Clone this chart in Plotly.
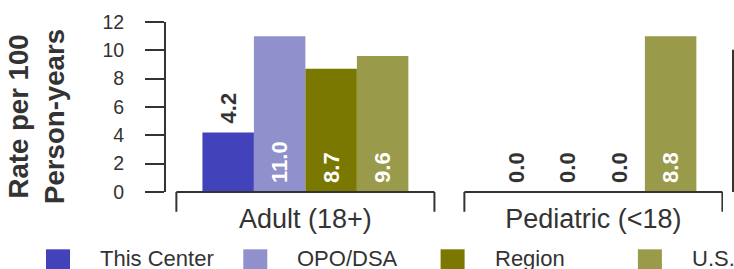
import plotly.graph_objects as go

# ---- data ----
groups = ["Adult (18+)", "Pediatric (<18)"]
series_names = ["This Center", "OPO/DSA", "Region", "U.S."]
series_colors = ["#4242BA", "#9090CC", "#7A7800", "#999A4A"]
this_center = [4.2, 0.0]
opo_dsa = [11.0, 0.0]
region = [8.7, 0.0]
us = [9.6, 11.0]
this_center_labels = ["4.2", "0.0"]
opo_dsa_labels = ["11.0", "0.0"]
region_labels = ["8.7", "0.0"]
us_labels = ["9.6", "8.8"]
y_ticks = [0, 2, 4, 6, 8, 10, 12]

series_values = [this_center, opo_dsa, region, us]
series_labels = [this_center_labels, opo_dsa_labels, region_labels, us_labels]

FONT = "Liberation Sans, Arial, sans-serif"
INK = "#333333"

# layout geometry (pixels)
W, H = 734, 269
L, R, T, B = 166, 11, 20, 77
pw = W - L - R
ph = H - T - B

def px_x(p):
    return (p - L) / pw

def px_y(p):
    return (H - B - p) / ph

fig = go.Figure()
for name, color, vals, labs in zip(series_names, series_colors, series_values, series_labels):
    fig.add_trace(go.Bar(
        name=name, x=groups, y=vals, text=labs,
        texttemplate="\u00a0%{text}",
        marker=dict(color=color, line=dict(width=0)),
        textposition=["outside" if v < 6 else "inside" for v in vals],
        insidetextanchor="start",
        textangle=-90,
        outsidetextfont=dict(family=FONT, size=22, color=INK, weight="bold"),
        insidetextfont=dict(family=FONT, size=22, color="white", weight="bold"),
        constraintext="none",
        cliponaxis=False,
        showlegend=False,
        hoverinfo="skip",
    ))

shapes = []
half = 0.448
for i, g in enumerate(groups):
    x0, x1 = i - half, i + half
    ylow = px_y(212)
    for (a, b, c, d) in [(x0, ylow, x0, 0), (x0, 0, x1, 0), (x1, 0, x1, ylow)]:
        shapes.append(dict(type="line", xref="x", yref="paper", x0=a, y0=b, x1=c, y1=d,
                           line=dict(color=INK, width=2)))
# partial axis of neighbouring panel at right edge
shapes.append(dict(type="line", xref="paper", yref="paper", x0=px_x(733), x1=px_x(733),
                   y0=0, y1=px_y(48), line=dict(color=INK, width=2)))

annotations = []
# y-axis title
annotations.append(dict(text="<b>Rate per 100<br>Person-years</b>", xref="paper", yref="paper",
                        x=px_x(37), y=px_y(116), xanchor="center", yanchor="middle",
                        textangle=-90, showarrow=False,
                        font=dict(family=FONT, size=27.6, color=INK)))
# manual legend
for k, (name, color) in enumerate(zip(series_names, series_colors)):
    sx = 46 + k * 197.3
    shapes.append(dict(type="rect", xref="paper", yref="paper",
                       x0=px_x(sx), x1=px_x(sx + 24), y0=px_y(250), y1=px_y(274),
                       fillcolor=color, line=dict(width=0)))
    annotations.append(dict(text=name, xref="paper", yref="paper", x=px_x(sx + 52), y=px_y(259),
                            xanchor="left", yanchor="middle", showarrow=False,
                            font=dict(family=FONT, size=22, color=INK)))

fig.update_layout(
    width=W, height=H,
    margin=dict(l=L, r=R, t=T, b=B, pad=0),
    paper_bgcolor="white", plot_bgcolor="white",
    barmode="group", bargap=0.285, bargroupgap=0,
    showlegend=False,
    shapes=shapes, annotations=annotations,
    xaxis=dict(type="category", range=[-0.484, 1.45], showline=False, showgrid=False,
               zeroline=False, ticks="", tickfont=dict(family=FONT, size=27, color=INK),
               ticklabelstandoff=8),
    yaxis=dict(range=[0, 12], tickvals=y_ticks, showgrid=False, zeroline=False,
               showline=True, linecolor=INK, linewidth=2,
               ticks="outside", ticklen=19, tickwidth=2, tickcolor=INK,
               tickfont=dict(family=FONT, size=19.5, color=INK), ticklabelstandoff=17),
)

fig.write_html("out.html", post_script="document.body.style.margin='0';",
               config={"displayModeBar": False})
